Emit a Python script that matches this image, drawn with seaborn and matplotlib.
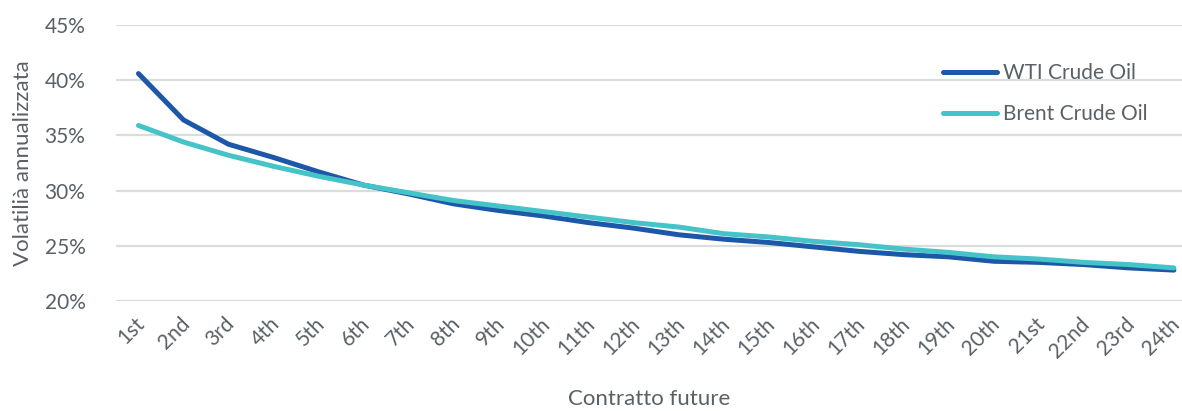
import pandas as pd
import seaborn as sns
import matplotlib.pyplot as plt
import matplotlib.transforms as mtransforms
from matplotlib.ticker import FuncFormatter

contracts = ["1st", "2nd", "3rd", "4th", "5th", "6th", "7th", "8th", "9th", "10th",
             "11th", "12th", "13th", "14th", "15th", "16th", "17th", "18th", "19th",
             "20th", "21st", "22nd", "23rd", "24th"]
wti = [40.6, 36.4, 34.2, 33.0, 31.7, 30.5, 29.7, 28.8, 28.2, 27.7, 27.1, 26.6,
       26.0, 25.6, 25.3, 24.9, 24.5, 24.2, 24.0, 23.6, 23.5, 23.3, 23.0, 22.8]
brent = [35.9, 34.4, 33.2, 32.2, 31.3, 30.5, 29.8, 29.1, 28.6, 28.1, 27.6, 27.1,
         26.7, 26.1, 25.8, 25.4, 25.1, 24.7, 24.4, 24.0, 23.8, 23.5, 23.3, 23.0]
series_names = ["WTI Crude Oil", "Brent Crude Oil"]
colors = ["#1d57a8", "#45c3c8"]

df = pd.DataFrame({
    "pos": list(range(len(contracts))) * 2,
    "vol": wti + brent,
    "serie": [series_names[0]] * len(wti) + [series_names[1]] * len(brent),
})

sns.set_style("white")
plt.rcParams["font.family"] = ["Lato", "DejaVu Sans"]
text_col = "#5a6166"

fig = plt.figure(figsize=(11.82, 4.11), dpi=100)
ax = fig.add_axes([0.0981, 0.2676, 0.9019, 0.6716])

sns.lineplot(data=df, x="pos", y="vol", hue="serie", palette=colors,
             linewidth=3.6, ax=ax, solid_capstyle="round")

ax.set_ylim(20, 45)
ax.set_xlim(-0.5, 23.18)
ax.set_yticks([20, 25, 30, 35, 40, 45])
ax.yaxis.set_major_formatter(FuncFormatter(lambda v, p: f"{v:.0f}%"))
ax.set_xticks(range(len(contracts)))
ax.set_xticklabels(contracts, rotation=45, ha="right", rotation_mode="anchor")
ax.tick_params(axis="both", length=0, labelsize=15, labelcolor=text_col)
ax.tick_params(axis="y", pad=22)
ax.tick_params(axis="x", pad=9)
shift = mtransforms.ScaledTranslation(-4 / 100, 0, fig.dpi_scale_trans)
for lbl in ax.get_xticklabels():
    lbl.set_transform(lbl.get_transform() + shift)
ax.grid(axis="y", color="#d9dedd", linewidth=1.6)
ax.set_axisbelow(True)
for s in ax.spines.values():
    s.set_visible(False)

ax.set_xlabel("Contratto future", fontsize=16, color=text_col, labelpad=20)
ax.set_ylabel("Volatilià annualizzata", fontsize=16, color=text_col, labelpad=8)

leg = ax.legend(loc="upper right", bbox_to_anchor=(0.985, 0.93), frameon=False,
                fontsize=15, handlelength=2.6, handletextpad=0.25, labelspacing=1.0,
                labelcolor=text_col)
for h in leg.get_lines():
    h.set_linewidth(3.6)
    h.set_solid_capstyle("round")

plt.savefig("out.png", dpi=100)
